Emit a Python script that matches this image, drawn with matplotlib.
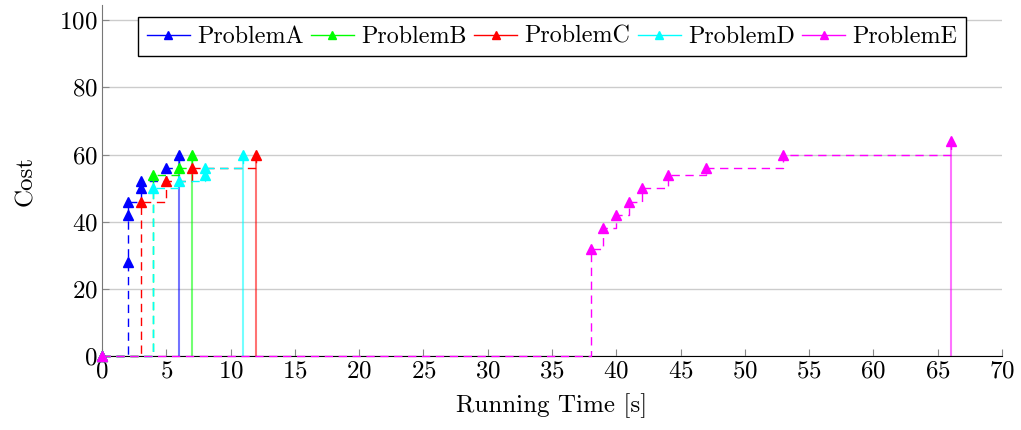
import matplotlib
matplotlib.use("Agg")
import matplotlib.pyplot as plt
from matplotlib.lines import Line2D

# Data (time [s], cost).
names = ["ProblemA", "ProblemB", "ProblemC", "ProblemD", "ProblemE"]
colors = ["#0000ff", "#00ff00", "#ff0000", "#00ffff", "#ff00ff"]

a_time = [0, 2, 2, 2, 3, 3, 5, 6]
a_cost = [0, 28, 42, 46, 50, 52, 56, 60]
b_time = [0, 4, 6, 7]
b_cost = [0, 54, 56, 60]
c_time = [0, 3, 5, 7, 12]
c_cost = [0, 46, 52, 56, 60]
d_time = [0, 4, 6, 8, 8, 11]
d_cost = [0, 50, 52, 54, 56, 60]
e_time = [0, 38, 39, 40, 41, 42, 44, 47, 53, 66]
e_cost = [0, 32, 38, 42, 46, 50, 54, 56, 60, 64]

series = [(a_time, a_cost), (b_time, b_cost), (c_time, c_cost),
          (d_time, d_cost), (e_time, e_cost)]

plt.rcParams["font.family"] = ["cmr10", "DejaVu Serif"]
plt.rcParams["mathtext.fontset"] = "cm"
plt.rcParams["axes.formatter.use_mathtext"] = True

fig = plt.figure(figsize=(10.21, 4.30), dpi=100)
ax = fig.add_axes([0.0999, 0.172, 0.8815, 0.816])

# Final result drawn as a solid drop line at the end time.
for (t, c), col in zip(series, colors):
    ax.vlines(t[-1], 0, c[-1], colors=col, lw=1.5, alpha=0.55, zorder=2)

for (t, c), col in zip(series, colors):
    ax.step(t, c, where="post", color=col, lw=1.0, ls=(0, (6, 4)),
            zorder=3, clip_on=False)
    ax.plot(t, c, ls="none", marker="^", ms=7, color=col, zorder=4,
            clip_on=False)

ax.set_xlim(0, 70)
ax.set_ylim(0, 104.5)
ax.set_xticks(range(0, 71, 5))
ax.set_yticks(range(0, 101, 20))
ax.grid(axis="y", color="#cccccc", lw=1.0)
ax.set_axisbelow(True)

for side in ["top", "right"]:
    ax.spines[side].set_visible(False)
ax.spines["left"].set_color("#777777")
ax.spines["bottom"].set_color("black")
ax.tick_params(direction="in", length=5, color="#888888", labelsize=18,
               pad=3)

ax.set_xlabel("Running Time [s]", fontsize=18, labelpad=8)
ax.set_ylabel("Cost", fontsize=18, labelpad=16)

handles = [Line2D([], [], color=col, lw=1.0, marker="^", ms=6)
           for col in colors]
leg = ax.legend(handles, names, loc="upper center",
                bbox_to_anchor=(0.5, 0.965), borderaxespad=0, ncol=5,
                fontsize=17.3, frameon=True, fancybox=False, framealpha=1,
                edgecolor="black", handlelength=1.8, handletextpad=0.3,
                columnspacing=0.3, borderpad=0.35)
leg.get_frame().set_linewidth(1.0)

fig.savefig("out.png", dpi=100)
